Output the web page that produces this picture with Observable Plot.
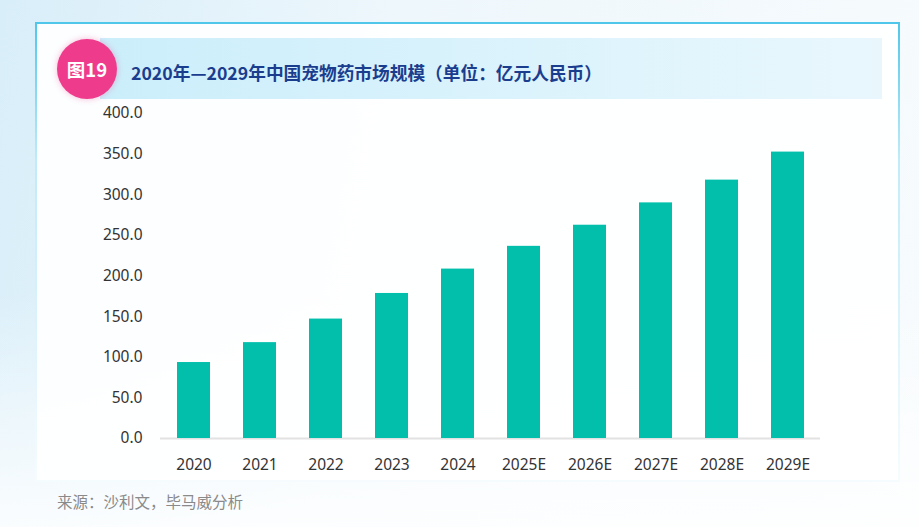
<!DOCTYPE html>
<html>
<head>
<meta charset="utf-8">
<script src="https://cdn.jsdelivr.net/npm/d3@7"></script>
<script src="https://cdn.jsdelivr.net/npm/@observablehq/plot@0.6"></script>
<style>
  html, body { margin: 0; padding: 0; }
  body {
    width: 919px; height: 527px; overflow: hidden; position: relative;
    background:
      linear-gradient(to bottom, rgba(255,255,255,0) 0%, rgba(255,255,255,0) 55%, rgba(255,255,255,0.85) 100%),
      linear-gradient(100deg, #d8eef9 0%, #eef7fc 40%, #f7fbfd 100%);
    font-family: "Noto Sans", "Noto Sans CJK SC", sans-serif;
  }
  #card {
    position: absolute; left: 35px; top: 22px; width: 861px; height: 456px;
    background: rgba(255,255,255,0.9);
    border: 2px solid;
    border-image: linear-gradient(to bottom, #4fc7ea 0%, rgba(79,199,234,0.35) 30%, rgba(79,199,234,0.05) 100%) 1;
  }
  #banner {
    position: absolute; left: 100px; top: 38px; width: 782px; height: 61px;
    background: linear-gradient(to right, #cbeefb, #e9f7fd);
  }
  #badge {
    position: absolute; left: 57px; top: 39px; width: 60px; height: 60px;
    border-radius: 50%; background: #ef3b8c;
    box-shadow: 0 0 6px rgba(239,59,140,0.35);
    color: #fff; font-family: "Noto Sans CJK SC", sans-serif; font-weight: 700;
    font-size: 18.5px; line-height: 60px; text-align: center;
  }
  #title {
    position: absolute; left: 131px; top: 58px; line-height: 28px;
    font-family: "Noto Sans CJK SC", sans-serif; font-weight: 700;
    font-size: 17.7px; color: #1b3d8e; white-space: nowrap;
  }
  #chart { position: absolute; left: 0; top: 100px; }
  #source {
    position: absolute; left: 57px; top: 488px; line-height: 26px;
    font-family: "Noto Sans CJK SC", sans-serif; font-size: 15.5px; color: #8a8a8a;
  }
</style>
</head>
<body>
<div id="card"></div>
<div id="banner"></div>
<div id="badge">图19</div>
<div id="title">2020年—2029年中国宠物药市场规模（单位：亿元人民币）</div>
<div id="chart"></div>
<div id="source">来源：沙利文，毕马威分析</div>
<script>
const years = ["2020", "2021", "2022", "2023", "2024", "2025E", "2026E", "2027E", "2028E", "2029E"];
const values = [93.5, 118, 147, 178.5, 208.5, 236.5, 262.5, 290, 318, 352.5];
const yTicks = [0, 50, 100, 150, 200, 250, 300, 350, 400];

const data = years.map((y, i) => ({year: y, value: values[i]}));

const chart = Plot.plot({
  width: 919,
  height: 380,
  marginLeft: 160,
  marginRight: 99,
  marginTop: 13,
  marginBottom: 42,
  style: {background: "transparent", fontFamily: "'Noto Sans', sans-serif", fontSize: "15.5px", color: "#333", overflow: "visible"},
  x: {domain: years, paddingInner: 0.5, paddingOuter: 0.25, label: null, tickSize: 0, tickPadding: 20},
  y: {domain: [0, 400], ticks: yTicks, tickFormat: d => d.toFixed(1), label: null, tickSize: 0, tickPadding: 18},
  marks: [
    Plot.ruleY([0], {stroke: "#e2e2e2", strokeWidth: 2}),
    Plot.barY(data, {x: "year", y: "value", fill: "#02bfac"})
  ]
});
document.getElementById("chart").appendChild(chart);
</script>
</body>
</html>
